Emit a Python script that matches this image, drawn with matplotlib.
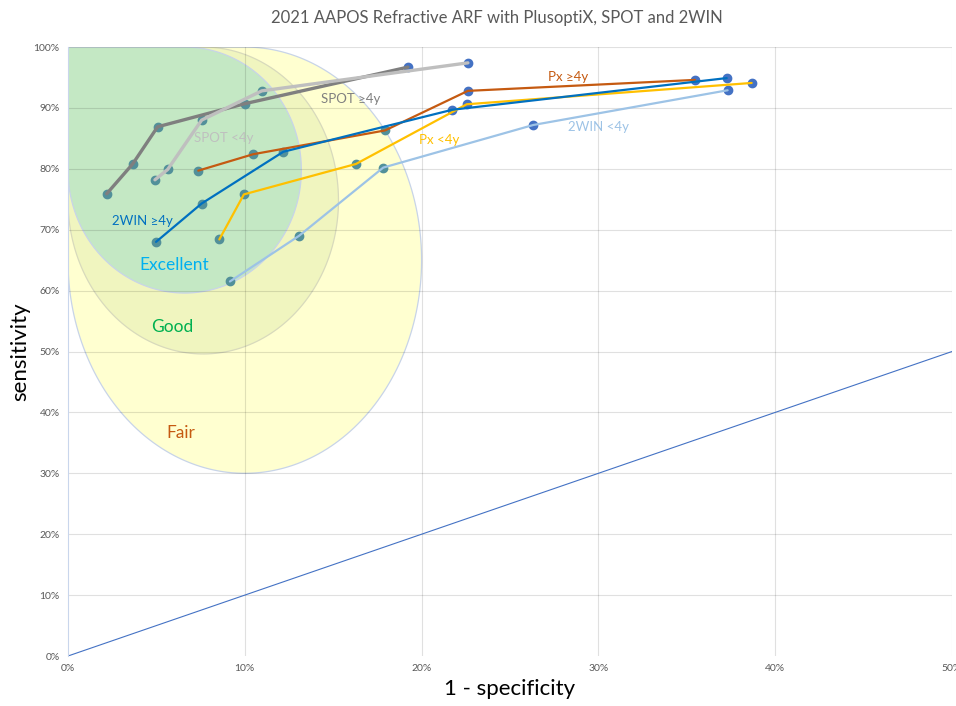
import numpy as np
import matplotlib.pyplot as plt
from matplotlib.path import Path
from matplotlib.patches import PathPatch

plt.rcParams['font.family'] = ['Lato', 'DejaVu Sans']

# 1 - specificity (%) and sensitivity (%) per device / age group
spot_old_x = [2.19, 3.66, 5.07, 10.01, 19.23]
spot_old_y = [75.9, 80.8, 86.9, 90.7, 96.7]
spot_young_x = [4.92, 5.64, 7.56, 10.96, 22.62]
spot_young_y = [78.2, 79.9, 88.0, 92.8, 97.4]
px_old_x = [7.37, 10.48, 17.93, 22.62, 35.46]
px_old_y = [79.7, 82.4, 86.3, 92.8, 94.6]
px_young_x = [8.56, 9.95, 16.29, 22.55, 38.67]
px_young_y = [68.4, 75.8, 80.8, 90.6, 94.1]
win_old_x = [4.98, 7.56, 12.18, 21.74, 37.26]
win_old_y = [68.0, 74.3, 82.8, 89.7, 94.9]
win_young_x = [9.16, 13.07, 17.83, 26.32, 37.31]
win_young_y = [61.5, 69.0, 80.2, 87.2, 92.9]

series_names = ["SPOT \u22654y", "SPOT <4y", "Px \u22654y", "Px <4y", "2WIN \u22654y", "2WIN <4y"]
series_x = [spot_old_x, spot_young_x, px_old_x, px_young_x, win_old_x, win_young_x]
series_y = [spot_old_y, spot_young_y, px_old_y, px_young_y, win_old_y, win_young_y]
series_colors = ["#7F7F7F", "#BFBFBF", "#C55A11", "#FFC000", "#0070C0", "#9DC3E6"]
series_widths = [2.4, 2.4, 1.6, 1.6, 1.6, 1.6]
label_pos = [(16.0, 91.5), (8.8, 85.1), (28.3, 95.1), (21.0, 84.7), (4.2, 71.4), (30.0, 86.9)]

# zones: (x0, x1, y0, y1) box of a teardrop shape, point at top-left
zone_names = ["Fair", "Good", "Excellent"]
zone_boxes = [(0, 20.0, 30.0, 100), (0, 15.3, 49.6, 100), (0, 13.2, 59.6, 100)]
zone_fill = ["#FFFFD0", "#F0F5BF", "#C4E8C4"]
zone_edge = ["#C8D4E8", "#D8DABC", "#C8D4E8"]
zone_text_col = ["#C55A11", "#00B050", "#00B0F0"]
zone_text_pos = [(6.4, 36.6), (5.9, 54.0), (6.0, 64.2)]


def teardrop(x0, x1, y0, y1, n=60):
    cx, cy = (x0 + x1) / 2, (y0 + y1) / 2
    a, b = (x1 - x0) / 2, (y1 - y0) / 2
    t = np.linspace(np.pi, 2.5 * np.pi, 3 * n)  # left -> bottom -> right -> top
    xs = np.r_[x0, cx + a * np.cos(t), x0]
    ys = np.r_[y1, cy + b * np.sin(t), y1]
    return Path(np.c_[xs, ys], closed=True)


fig = plt.figure(figsize=(9.56, 7.06), dpi=100)
ax = fig.add_axes([0.0711, 0.0708, 0.9247, 0.8626])

zone_paths = [teardrop(*box) for box in zone_boxes]
for p, fc, ec in zip(zone_paths, zone_fill, zone_edge):
    ax.add_patch(PathPatch(p, facecolor=fc, edgecolor=ec, lw=0.9, zorder=1))

for name, pos, col in zip(zone_names, zone_text_pos, zone_text_col):
    ax.text(pos[0], pos[1], name, color=col, fontsize=12.5, ha="center", va="center", zorder=5)

# grid shows faintly through the zones
for v in np.arange(10, 51, 10):
    ax.axvline(v, color="black", alpha=0.12, lw=0.8, zorder=1.5)
for v in np.arange(10, 101, 10):
    ax.axhline(v, color="black", alpha=0.12, lw=0.8, zorder=1.5)

# markers: blue, tinted where they sit under a zone; lines drawn over them
for xs, ys in zip(series_x, series_y):
    for x, y in zip(xs, ys):
        inside = any(p.contains_point((x, y)) for p in zone_paths)
        mc = "#52909A" if inside else "#4472C4"
        ax.plot(x, y, "o", color=mc, ms=6, zorder=2.5)

for xs, ys, c, w in zip(series_x, series_y, series_colors, series_widths):
    ax.plot(xs, ys, color=c, lw=w, zorder=3, solid_capstyle="round")

for name, pos, c in zip(series_names, label_pos, series_colors):
    ax.text(pos[0], pos[1], name, color=c, fontsize=9.5, ha="center", va="center", zorder=5)

# chance line
ax.plot([0, 50], [0, 50], color="#4472C4", lw=0.8, zorder=3)

ax.set_xlim(0, 50)
ax.set_ylim(0, 100)
ax.set_xticks(np.arange(0, 51, 10))
ax.set_xticklabels([f"{v}%" for v in range(0, 51, 10)])
ax.set_yticks(np.arange(0, 101, 10))
ax.set_yticklabels([f"{v}%" for v in range(0, 101, 10)])
ax.tick_params(length=0, labelsize=7.5, labelcolor="#595959", pad=6)
for s in ax.spines.values():
    s.set_visible(False)
ax.spines["left"].set_visible(True)
ax.spines["left"].set_color("#C9D6EC")
ax.spines["left"].set_zorder(4)

ax.set_xlabel("1 - specificity", fontsize=16, labelpad=4)
ax.set_ylabel("sensitivity", fontsize=16, labelpad=2)
fig.text(0.52, 0.975, "2021 AAPOS Refractive ARF with PlusoptiX, SPOT and 2WIN",
         ha="center", va="center", fontsize=12, color="#595959")

fig.savefig("out.png", dpi=100)
